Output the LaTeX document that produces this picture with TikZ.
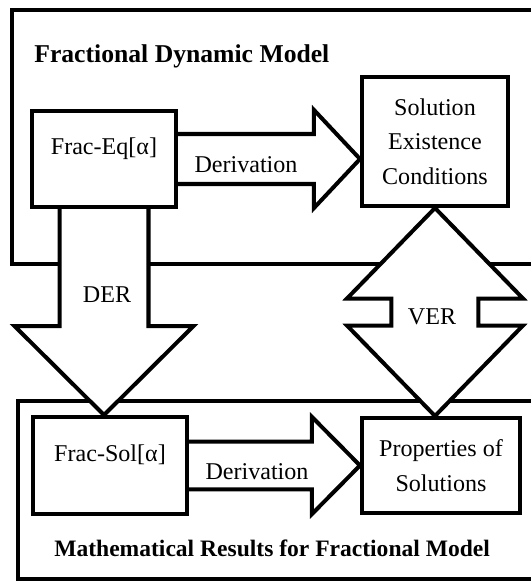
\documentclass[tikz,border=0pt]{standalone}
\usepackage{fontspec}
\setmainfont{Liberation Serif}
\usepackage{tikz}
\usetikzlibrary{calc}

\pgfdeclarelayer{bg}
\pgfdeclarelayer{mid}
\pgfsetlayers{bg,mid,main}

% block arrow: start, tip, shaft half width, head half width, head length
\newcommand{\fatarrow}[5]{%
  \path ($(#2)!#5!(#1)$) coordinate (hb);
  \draw[fatarr] ($(#1)!#3!90:(#2)$) -- ($(hb)!#3!90:(#2)$) -- ($(hb)!#4!90:(#2)$)
    -- (#2) -- ($(hb)!#4!-90:(#2)$) -- ($(hb)!#3!-90:(#2)$) -- ($(#1)!#3!-90:(#2)$);
}
% double block arrow, same arguments
\newcommand{\fatdouble}[5]{%
  \path ($(#1)!#5!(#2)$) coordinate (ha) ($(#2)!#5!(#1)$) coordinate (hb);
  \draw[fatarr] (#1) -- ($(ha)!#4!90:(#2)$) -- ($(ha)!#3!90:(#2)$) -- ($(hb)!#3!90:(#2)$)
    -- ($(hb)!#4!90:(#2)$) -- (#2) -- ($(hb)!#4!-90:(#2)$) -- ($(hb)!#3!-90:(#2)$)
    -- ($(ha)!#3!-90:(#2)$) -- ($(ha)!#4!-90:(#2)$) -- cycle;
}

\begin{document}
\begin{tikzpicture}[
    font=\fontsize{13.7}{19.6}\selectfont,
    box/.style={rectangle, draw, line width=0.08cm, fill=white, align=center},
    fatarr/.style={line width=0.08cm, fill=white, line join=miter},
    frame/.style={draw, line width=0.08cm},
    ttl/.style={anchor=base west, inner sep=0pt}
]
\useasboundingbox (0,0) rectangle (10.62,11.62);

\node[box, minimum width=2.88cm, minimum height=1.92cm] (eq) at (2.08,8.44) {};
\node (eqtxt) at ($(eq)+(0,0.2)$) {Frac-Eq[α]};
\node[box, minimum width=2.92cm, minimum height=2.58cm] (sol) at (8.70,8.79) {Solution\\Existence\\Conditions};
\node[box, minimum width=3.08cm, minimum height=1.94cm] (fsol) at (2.20,2.31) {};
\node (fsoltxt) at ($(fsol)+(0,0.21)$) {Frac-Sol[α]};
\node[box, minimum width=3.16cm, minimum height=1.90cm] (prop) at (8.82,2.31) {Properties of\\Solutions};

\coordinate (t1) at (sol.west |- eq.east);
\coordinate (t2) at (prop.west |- fsol.east);
\coordinate (t3) at (eq.south |- fsol.north);
\coordinate (t4) at (sol.south |- prop.north);

\begin{pgfonlayer}{mid}
\fatarrow{eq.east}{t1}{0.5cm}{0.98cm}{0.92cm}
\fatarrow{fsol.east}{t2}{0.48cm}{0.97cm}{0.96cm}
\fatarrow{eq.south}{t3}{0.89cm}{1.79cm}{1.78cm}
\fatdouble{sol.south}{t4}{0.87cm}{1.76cm}{1.81cm}
\end{pgfonlayer}

\node (d1) at (4.92,8.32) {Derivation};
\node (d2) at (5.14,2.18) {Derivation};
\node (der) at (2.14,5.72) {DER};
\node (ver) at (8.64,5.28) {VER};

\node[ttl, font=\fontsize{14.6}{17}\selectfont\bfseries] (fdm) at (0.68,10.37) {Fractional Dynamic Model};
\node[ttl, font=\fontsize{13.4}{17}\selectfont\bfseries] (mrf) at (1.08,0.50) {Mathematical Results for Fractional Model};

% the two group frames run past the right edge
\begin{pgfonlayer}{bg}
\draw[frame] (0.24,11.42) rectangle (10.9,6.34);
\draw[frame] (0.36,3.60) rectangle (10.9,0.04);
\end{pgfonlayer}
\end{tikzpicture}
\end{document}
